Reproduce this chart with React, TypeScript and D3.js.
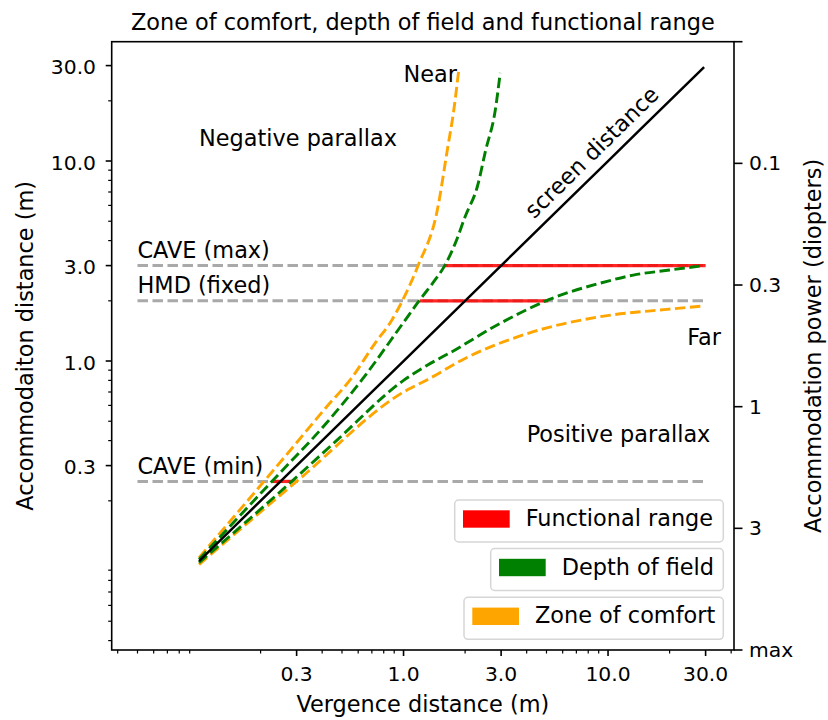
import React from "react";
import * as d3 from "d3";

// ---------- data ----------
const xTickValues = [0.3, 1, 3, 10, 30];
const xTickLabels = ["0.3", "1.0", "3.0", "10.0", "30.0"];
const yTickValues = [0.3, 1, 3, 10, 30];
const yTickLabels = ["0.3", "1.0", "3.0", "10.0", "30.0"];
const rightTickLabels = ["", "0.1", "0.3", "1", "3", "max"];

// screen distance (vergence = accommodation)
const screenV = [0.1, 0.3, 1, 3, 10, 29.5];
const screenA = [0.1, 0.3, 1, 3, 10, 29.5];

// depth of field, near boundary
const dofNearV = [0.1, 0.227, 0.42, 0.625, 1.0, 1.2, 1.4, 1.59, 1.8, 2.0, 2.3, 2.52, 2.81, 2.97];
const dofNearA = [0.102, 0.25, 0.49, 0.804, 1.56, 2.02, 2.48, 3.0, 3.93, 5.27, 7.5, 11.3, 18, 27.6];
// depth of field, far boundary
const dofFarV = [0.1, 0.284, 0.47, 1.0, 1.3, 1.69, 2.96, 5.1, 10, 13.3, 20, 29.5];
const dofFarA = [0.098, 0.25, 0.40, 0.8, 0.95, 1.1, 1.54, 2.02, 2.51, 2.69, 2.85, 3.0];

// zone of comfort, near boundary
const zocNearV = [0.1, 0.289, 0.421, 0.548, 0.725, 0.876, 0.991, 1.181, 1.463, 1.637, 1.76, 1.862];
const zocNearA = [0.104, 0.373, 0.591, 0.804, 1.226, 1.6, 2.018, 3.02, 5.69, 11.35, 17.9, 28.5];
// zone of comfort, far boundary
const zocFarV = [0.1, 0.3, 1.05, 1.3, 2.0, 4.31, 9.14, 19.4, 29.5];
const zocFarA = [0.096, 0.25, 0.72, 0.804, 1.03, 1.401, 1.665, 1.813, 1.885];

// display distances (gray dashed) and functional range (red)
const displayNames = ["CAVE (max)", "HMD (fixed)", "CAVE (min)"];
const displayA = [3.0, 2.0, 0.25];
const displayFrom = [0.05, 0.05, 0.05];
const displayTo = [30, 30, 30];
const functionalFrom = [1.59, 1.2, 0.227];
const functionalTo = [30, 5.1, 0.284];

const legendLabels = ["Functional range", "Depth of field", "Zone of comfort"];
const legendColors = ["#ff0000", "#008000", "#ffa500"];

// ---------- layout ----------
const W = 828;
const H = 720;
const L = 111.7, R = 734, T = 41.7, B = 650;
const FONT = "DejaVu Sans";
const FS = 22.4;
const TFS = 20.3;

const x = d3.scaleLog().domain([0.0374, 41.3]).range([L, R]);
const y = d3.scaleLog().domain([0.0359, 39.5]).range([B, T]);
const yR = d3.scalePoint<string>().domain(rightTickLabels).range([T, B]);

const line = d3
  .line<[number, number]>()
  .x((d) => x(d[0]))
  .y((d) => y(d[1]))
  .curve(d3.curveMonotoneX);

const zip = (a: number[], b: number[]) => a.map((v, i) => [v, b[i]] as [number, number]);

const isMinor = (v: number) => {
  const p = Math.pow(10, Math.floor(Math.log10(v) + 1e-9));
  const lead = Math.round(v / p);
  return lead !== 1 && lead !== 3;
};
const xMinor = x.ticks().filter(isMinor);
const yMinor = y.ticks().filter(isMinor);

const legendBoxLeft = [454.7, 490.7, 464];
const legendBoxTop = [500, 548.5, 597.3];

export default function App() {
  const dash = "10.5,4.5";
  return (
    <svg
      width={W}
      height={H}
      style={{ position: "fixed", left: 0, top: 0, background: "#fff" }}
      fontFamily={FONT}
    >
      <rect x={0} y={0} width={W} height={H} fill="#fff" />
      {/* title */}
      <text x={(L + R) / 2} y={30} fontSize={FS} textAnchor="middle" fill="#000">
        Zone of comfort, depth of field and functional range
      </text>

      {/* gray display lines */}
      {displayA.map((a, i) => (
        <line
          key={"g" + i}
          x1={x(displayFrom[i])}
          x2={x(displayTo[i])}
          y1={y(a)}
          y2={y(a)}
          stroke="#a9a9a9"
          strokeWidth={3}
          strokeDasharray={dash}
        />
      ))}
      {displayA.map((a, i) => (
        <text key={"gl" + i} x={x(displayFrom[i])} y={y(a) - 7.5} fontSize={FS} fill="#000">
          {displayNames[i]}
        </text>
      ))}

      {/* functional range */}
      {displayA.map((a, i) => (
        <line
          key={"r" + i}
          x1={x(functionalFrom[i])}
          x2={x(functionalTo[i])}
          y1={y(a)}
          y2={y(a)}
          stroke="#ff0000"
          strokeOpacity={0.85}
          strokeWidth={3.3}
        />
      ))}

      {/* zone of comfort */}
      <path d={line(zip(zocNearV, zocNearA)) || ""} fill="none" stroke="#ffa500" strokeWidth={2.9} strokeDasharray={dash} />
      <path d={line(zip(zocFarV, zocFarA)) || ""} fill="none" stroke="#ffa500" strokeWidth={2.9} strokeDasharray={dash} />
      {/* depth of field */}
      <path d={line(zip(dofNearV, dofNearA)) || ""} fill="none" stroke="#008000" strokeWidth={2.9} strokeDasharray={dash} />
      <path d={line(zip(dofFarV, dofFarA)) || ""} fill="none" stroke="#008000" strokeWidth={2.9} strokeDasharray={dash} />
      {/* screen distance */}
      <path d={line(zip(screenV, screenA)) || ""} fill="none" stroke="#000" strokeWidth={2.5} />

      {/* annotations */}
      <text x={x(0.1)} y={145.7} fontSize={FS} fill="#000">Negative parallax</text>
      <text x={x(1.0)} y={81.7} fontSize={FS} fill="#000">Near</text>
      <text x={687.3} y={345} fontSize={FS} fill="#000">Far</text>
      <text x={x(4)} y={441.7} fontSize={FS} fill="#000">Positive parallax</text>
      <text
        fontSize={FS}
        fill="#000"
        transform={`translate(${x(4.35)},${y(5.1)}) rotate(-44.4)`}
      >
        screen distance
      </text>

      {/* legends */}
      {legendLabels.map((lab, i) => {
        const bx = legendBoxLeft[i];
        const by = legendBoxTop[i];
        return (
          <g key={"lg" + i}>
            <rect
              x={bx}
              y={by}
              width={723.3 - bx}
              height={42}
              rx={4}
              ry={4}
              fill="#fff"
              fillOpacity={0.8}
              stroke="#d6d6d6"
              strokeWidth={1.5}
            />
            <rect x={bx + 8.3} y={by + 10.3} width={46.7} height={17.4} fill={legendColors[i]} />
            <text x={bx + 8.3 + 46.7 + 16} y={by + 26} fontSize={FS} fill="#000">
              {lab}
            </text>
          </g>
        );
      })}

      {/* spines */}
      <rect x={L} y={T} width={R - L} height={B - T} fill="none" stroke="#000" strokeWidth={1.6} />

      {/* bottom axis */}
      {xTickValues.map((v, i) => (
        <g key={"xt" + i}>
          <line x1={x(v)} x2={x(v)} y1={B} y2={B + 6} stroke="#000" strokeWidth={1.6} />
          <text x={x(v)} y={681} fontSize={TFS} textAnchor="middle" fill="#000">
            {xTickLabels[i]}
          </text>
        </g>
      ))}
      {xMinor.map((v, i) => (
        <line key={"xm" + i} x1={x(v)} x2={x(v)} y1={B} y2={B + 3.5} stroke="#000" strokeWidth={1.2} />
      ))}
      <text x={(L + R) / 2} y={712} fontSize={FS} textAnchor="middle" fill="#000">
        Vergence distance (m)
      </text>

      {/* left axis */}
      {yTickValues.map((v, i) => (
        <g key={"yt" + i}>
          <line x1={L - 6} x2={L} y1={y(v)} y2={y(v)} stroke="#000" strokeWidth={1.6} />
          <text x={96} y={y(v) + 8.5} fontSize={TFS} textAnchor="end" fill="#000">
            {yTickLabels[i]}
          </text>
        </g>
      ))}
      {yMinor.map((v, i) => (
        <line key={"ym" + i} x1={L - 3.5} x2={L} y1={y(v)} y2={y(v)} stroke="#000" strokeWidth={1.2} />
      ))}
      <text
        transform={`translate(33,${(T + B) / 2}) rotate(-90)`}
        fontSize={FS}
        textAnchor="middle"
        fill="#000"
      >
        Accommodaiton distance (m)
      </text>

      {/* right axis */}
      {rightTickLabels.map((lab, i) => (
        <g key={"rt" + i}>
          <line x1={R} x2={R + 8.5} y1={yR(lab)!} y2={yR(lab)!} stroke="#000" strokeWidth={1.6} />
          <text x={749} y={yR(lab)! + 7} fontSize={TFS} fill="#000">
            {lab}
          </text>
        </g>
      ))}
      <text
        transform={`translate(821,${(T + B) / 2}) rotate(-90)`}
        fontSize={FS}
        textAnchor="middle"
        fill="#000"
      >
        Accommodation power (diopters)
      </text>
    </svg>
  );
}
